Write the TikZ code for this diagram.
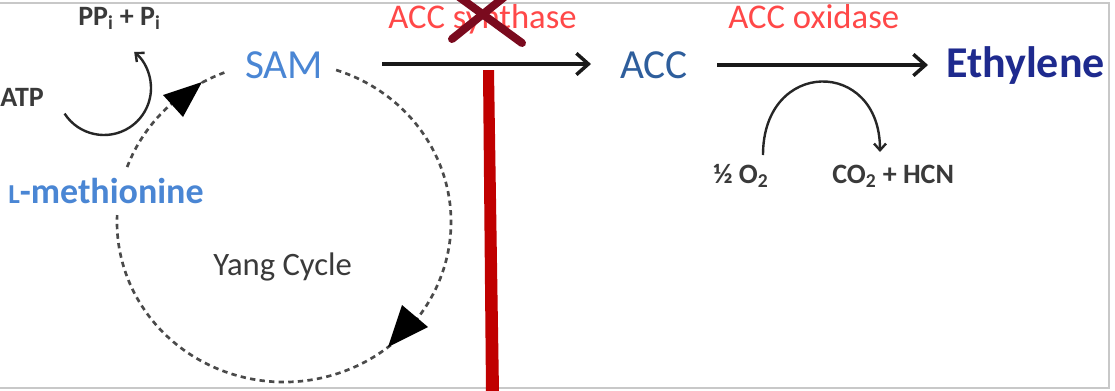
\documentclass[tikz,border=0pt]{standalone}
\usepackage{fontspec}
\setmainfont{Carlito}
\usetikzlibrary{arrows.meta,calc}
\definecolor{samblue}{HTML}{4A86D4}
\definecolor{accblue}{HTML}{2E5E9C}
\definecolor{ethblue}{HTML}{1E2A8E}
\definecolor{enzred}{HTML}{FF4848}
\definecolor{xred}{HTML}{7A0A1E}
\definecolor{barred}{HTML}{C00000}
\definecolor{txtgray}{HTML}{3A3A3A}
\definecolor{dashgray}{HTML}{4A4A4A}
\definecolor{framegray}{HTML}{C8C8C8}
\begin{document}
\begin{tikzpicture}[x=0.75pt,y=-0.75pt,
  lbl/.style={inner sep=0pt, anchor=base west},
  bigtxt/.style={font=\fontsize{31}{35}\selectfont},
  enztxt/.style={font=\fontsize{26}{30}\selectfont, text=enzred},
  smalltxt/.style={font=\fontsize{21}{25}\selectfont\bfseries, text=txtgray},
  rxn/.style={draw=black!90, line width=2.6pt, -{Straight Barb[length=9pt,width=16pt,line width=2.6pt]}},
  side/.style={draw=black!85, line width=1.8pt, -{Straight Barb[length=5pt,width=9pt,line width=1.8pt]}},
  cyc/.style={draw=dashgray, line width=2pt, dash pattern=on 4pt off 3.2pt},
  xmark/.style={draw=xred, line width=6pt, line cap=round}]
\useasboundingbox (0,0) rectangle (1115,390);
\clip (0,0) rectangle (1115,390);
\fill[white] (0,0) rectangle (1115,390);
% frame
\draw[framegray, line width=1.6pt] (-5,3) -- (1109,3) -- (1109,388) -- (-5,388);
% labels
\node[lbl, bigtxt, text=samblue] (SAM) at (245,78) {SAM};
\node[lbl, bigtxt, text=accblue] (ACC) at (620,78) {ACC};
\node[lbl, font=\fontsize{33}{38}\selectfont\bfseries, text=ethblue] (ETH) at (946,77) {Ethylene};
\node[lbl, enztxt] (ACS) at (388,28) {ACC synthase};
\node[lbl, enztxt] (ACO) at (728,28) {ACC oxidase};
\node[lbl, font=\fontsize{27}{31}\selectfont\bfseries, text=samblue] (MET) at (8,203) {{\fontsize{20.5}{24}\selectfont L}-methionine};
\node[lbl, font=\fontsize{24.5}{28}\selectfont, text=txtgray] (YANG) at (213,275) {Yang Cycle};
\node[lbl, smalltxt] (ATP) at (0,106) {ATP};
\node[lbl, smalltxt] (PPI) at (78,25) {PP\textsubscript{i} + P\textsubscript{i}};
\node[lbl, smalltxt] (O2) at (713,183) {½ O\textsubscript{2}};
\node[lbl, smalltxt] (CO2) at (832,183) {CO\textsubscript{2} + HCN};
% main reactions
\draw[rxn] ($(SAM.base east)+(59,-14)$) -- ($(ACC.base west)+(-29,-14)$);
\draw[rxn] ($(ACC.base east)+(29,-13)$) -- ($(ETH.base west)+(-18,-12)$);
% Yang cycle (dashed ellipse, broken at SAM and L-methionine)
\coordinate (YC) at (284,222);
\draw[cyc] (YC) ++(-71.8:167 and 160) arc[start angle=-71.8, end angle=182.5, x radius=167, y radius=160];
\draw[cyc] (YC) ++(200.1:167 and 160) arc[start angle=200.1, end angle=250.3, x radius=167, y radius=160];
\fill[black] (202,82) -- (163,95) -- (183,117) -- cycle;
\fill[black] (388,347) -- (428,327) -- (402,305) -- cycle;
% ATP side arrow
\coordinate (atpc) at (104,88);
\draw[side] (atpc) ++(147:47) arc[start angle=147, end angle=-50, radius=47];
% O2 side arrow
\coordinate (o2s) at (763,155);
\coordinate (co2e) at (880,152);
\draw[side] (o2s) .. controls (763,58) and (880,58) .. (co2e);
% inhibition
\draw[xmark] (452,39) -- (508,-6);
\draw[xmark] (522,43) -- (455,-6);
\fill[barred] (483,70) -- (494,70) -- (499,392) -- (486,392) -- cycle;
\end{tikzpicture}
\end{document}
